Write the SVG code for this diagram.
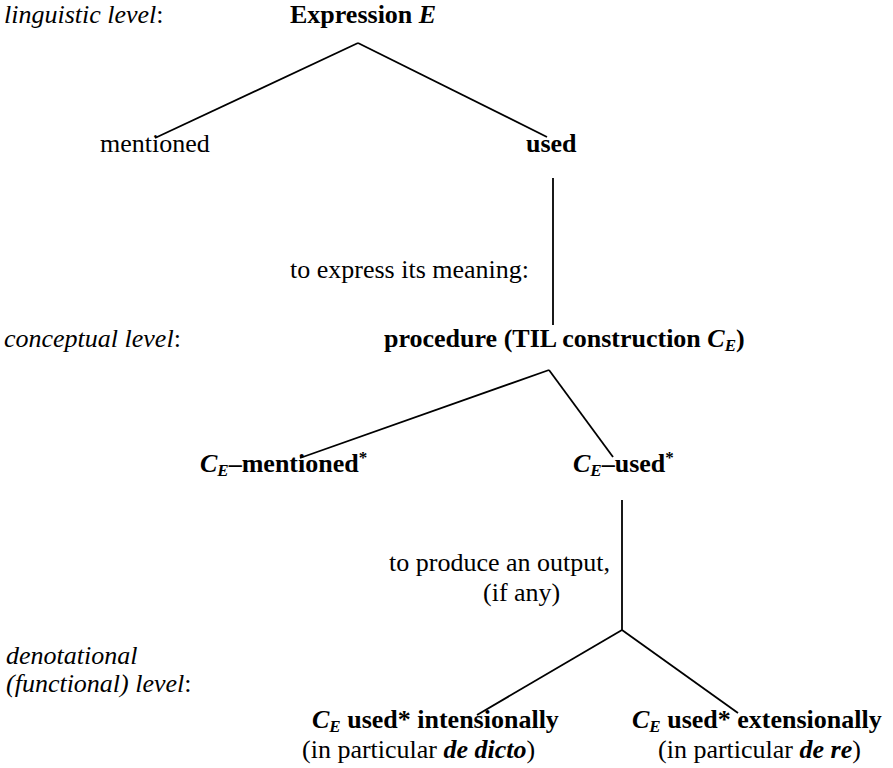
<svg xmlns="http://www.w3.org/2000/svg" width="893" height="768" viewBox="0 0 893 768">
<style>
text { font-family: "Liberation Serif", "Times New Roman", serif; font-size: 26px; fill: #000; }
.b { font-weight: bold; }
.i { font-style: italic; }
.sub { font-size: 17px; }
.sup { font-size: 17px; }
.conn line { stroke: #000; stroke-width: 1.8; fill: none; }
</style>
<rect width="893" height="768" fill="#fff"/>
<g id="levels">
  <text id="lvl-ling" x="4" y="23"><tspan class="i">linguistic level</tspan>:</text>
  <text id="lvl-conc" x="4" y="347"><tspan class="i">conceptual level</tspan>:</text>
  <text id="lvl-den1" x="6" y="664" class="i">denotational</text>
  <text id="lvl-den2" x="6" y="692"><tspan class="i">(functional) level</tspan>:</text>
</g>
<g id="expression"><text x="290" y="23" class="b">Expression <tspan class="i">E</tspan></text></g>
<g id="mentioned"><text x="100" y="152">mentioned</text></g>
<g id="used"><text x="526" y="152" class="b">used</text></g>
<g id="label-express"><text x="290" y="278">to express its meaning:</text></g>
<g id="procedure"><text x="384" y="347" class="b">procedure (TIL construction <tspan class="i">C</tspan><tspan class="i sub" dy="4">E</tspan><tspan dy="-4">)</tspan></text></g>
<g id="ce-mentioned"><text x="200" y="472" class="b"><tspan class="i">C</tspan><tspan class="i sub" dy="4">E</tspan><tspan dy="-4">–mentioned</tspan><tspan class="sup" dy="-9">*</tspan></text></g>
<g id="ce-used"><text x="573" y="472" class="b"><tspan class="i">C</tspan><tspan class="i sub" dy="4">E</tspan><tspan dy="-4">–used</tspan><tspan class="sup" dy="-9">*</tspan></text></g>
<g id="label-produce">
  <text x="389" y="571">to produce an output,</text>
  <text x="483" y="601">(if any)</text>
</g>
<g id="intensional">
  <text x="312" y="728" class="b"><tspan class="i">C</tspan><tspan class="i sub" dy="4">E</tspan><tspan dy="-4"> used* intensionally</tspan></text>
  <text x="302" y="758">(in particular <tspan class="b i">de dicto</tspan>)</text>
</g>
<g id="extensional">
  <text x="632" y="728" class="b"><tspan class="i">C</tspan><tspan class="i sub" dy="4">E</tspan><tspan dy="-4"> used* extensionally</tspan></text>
  <text x="658" y="758">(in particular <tspan class="b i">de re</tspan>)</text>
</g>
<g id="connectors" class="conn">
  <line x1="358" y1="43" x2="155" y2="138"/>
  <line x1="358" y1="43" x2="547" y2="137"/>
  <line x1="553" y1="178" x2="553" y2="325"/>
  <line x1="549" y1="370" x2="300" y2="458"/>
  <line x1="549" y1="370" x2="613" y2="457"/>
  <line x1="622" y1="500" x2="622" y2="630"/>
  <line x1="622" y1="630" x2="477" y2="715"/>
  <line x1="622" y1="630" x2="738" y2="713"/>
</g>
</svg>
